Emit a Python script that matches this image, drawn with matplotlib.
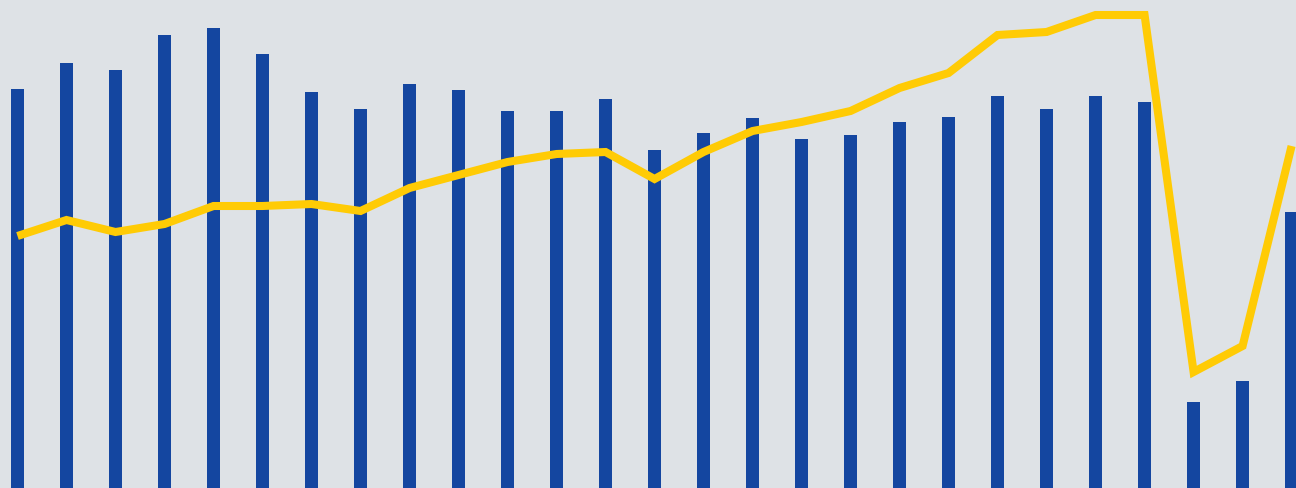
import matplotlib
matplotlib.use("Agg")
import matplotlib.pyplot as plt
import numpy as np

# Bar heights and line values (arbitrary units, 0 = bottom edge)
bar_values = [399, 425, 418, 453, 460, 434, 396, 379, 404, 398, 377, 377, 389,
              338, 355, 370, 349, 353, 366, 371, 392, 379, 392, 386, 86, 107, 276]
line_values = [252, 268, 256, 264, 282, 282, 284, 277, 300, 313, 326, 334, 336,
               309, 336, 357, 366, 377, 400, 415, 453, 456, 473, 473, 116, 142, 342]

bg = "#dee2e6"
blue = "#1446a0"
yellow = "#ffcb05"

fig = plt.figure(figsize=(12.96, 4.89), dpi=100, facecolor=bg)
ax = fig.add_axes([0, 0, 1, 1])
ax.set_facecolor(bg)

x = np.arange(len(bar_values))
ax.bar(x, bar_values, width=0.265, color=blue, zorder=2)
ax.plot(x, line_values, color=yellow, linewidth=5.8, zorder=3,
        solid_joinstyle="miter", solid_capstyle="butt")

ax.set_xlim(-0.357, 26.09)
ax.set_ylim(0, 489)
ax.axis("off")

fig.savefig("out.png", dpi=100, facecolor=bg)
